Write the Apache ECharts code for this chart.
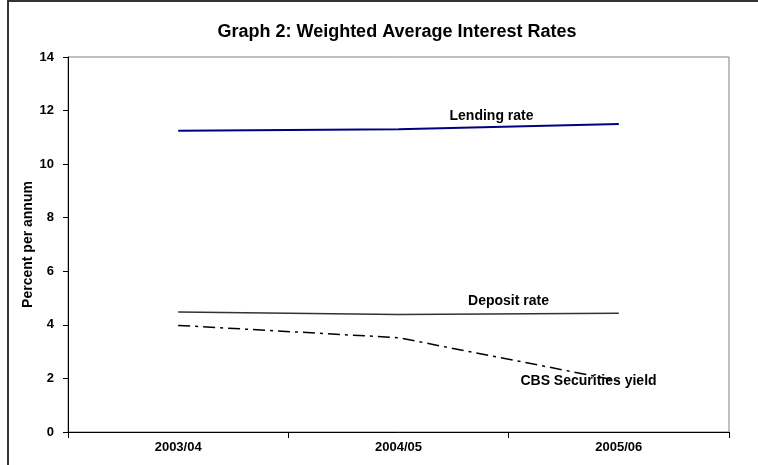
<!DOCTYPE html>
<html>
<head>
<meta charset="utf-8">
<script src="https://cdn.jsdelivr.net/npm/echarts@6/dist/echarts.min.js"></script>
<style>
  html, body { margin: 0; padding: 0; background: #fff; }
  #chart { width: 758px; height: 465px; }
</style>
</head>
<body>
<div id="chart"></div>
<script>
const years = ['2003/04', '2004/05', '2005/06']
const lendingRate = [11.25, 11.3, 11.5]
const depositRate = [4.48, 4.39, 4.43]
const cbsYield = [3.98, 3.52, 1.91]
const yTicks = { min: 0, max: 14, interval: 2 }

const font = 'Liberation Sans, Arial, sans-serif'

// puts the series name next to the middle point, like the original callouts
const withLabel = (values, offset) => values.map((v, i) => i === 1
  ? {
      value: v,
      label: {
        show: true,
        formatter: '{a}',
        position: 'inside',
        offset: offset,
        color: '#000',
        fontFamily: font,
        fontWeight: 'bold',
        fontSize: 14
      }
    }
  : v)

const myChart = echarts.init(document.getElementById('chart'))

const option = {
  backgroundColor: '#fff',
  animation: false,
  title: {
    text: 'Graph 2: Weighted Average Interest Rates',
    left: 392,
    textAlign: 'center',
    top: 18,
    textStyle: {
      fontFamily: font,
      fontSize: 18,
      fontWeight: 'bold',
      color: '#000'
    }
  },
  graphic: [
    {
      type: 'rect',
      shape: { x: 8, y: 1, width: 760, height: 480 },
      style: { fill: 'none', stroke: '#333', lineWidth: 2 },
      silent: true
    }
  ],
  grid: {
    left: 68,
    right: 29,
    top: 57,
    bottom: 33,
    show: true,
    borderColor: '#808080',
    borderWidth: 1
  },
  xAxis: {
    type: 'category',
    data: years,
    boundaryGap: true,
    axisLine: { lineStyle: { color: '#000', width: 1 } },
    axisTick: { show: true, length: 6, lineStyle: { color: '#000' } },
    axisLabel: {
      margin: 9,
      color: '#000',
      fontFamily: font,
      fontWeight: 'bold',
      fontSize: 13
    },
    splitLine: { show: false }
  },
  yAxis: {
    type: 'value',
    min: yTicks.min,
    max: yTicks.max,
    interval: yTicks.interval,
    name: 'Percent per annum',
    nameLocation: 'middle',
    nameGap: 33,
    nameMoveOverlap: false,
    nameTextStyle: {
      color: '#000',
      fontFamily: font,
      fontWeight: 'bold',
      fontSize: 14
    },
    axisLine: { show: true, lineStyle: { color: '#000', width: 1 } },
    axisTick: { show: true, length: 5, lineStyle: { color: '#000' } },
    axisLabel: {
      margin: 14,
      color: '#000',
      fontFamily: font,
      fontWeight: 'bold',
      fontSize: 13
    },
    splitLine: { show: false }
  },
  series: [
    {
      name: 'Lending rate',
      type: 'line',
      symbol: 'circle',
      symbolSize: 0,
      showSymbol: true,
      lineStyle: { color: '#000080', width: 2 },
      itemStyle: { color: '#000080' },
      data: withLabel(lendingRate, [93, -13])
    },
    {
      name: 'Deposit rate',
      type: 'line',
      symbol: 'circle',
      symbolSize: 0,
      showSymbol: true,
      lineStyle: { color: '#333', width: 1.5 },
      itemStyle: { color: '#333' },
      data: withLabel(depositRate, [110, -13])
    },
    {
      name: 'CBS Securities yield',
      type: 'line',
      symbol: 'circle',
      symbolSize: 0,
      showSymbol: true,
      lineStyle: { color: '#000', width: 1.5, type: [12, 5, 3, 5] },
      itemStyle: { color: '#000' },
      data: withLabel(cbsYield, [190, 43])
    }
  ]
}

myChart.setOption(option)
</script>
</body>
</html>
